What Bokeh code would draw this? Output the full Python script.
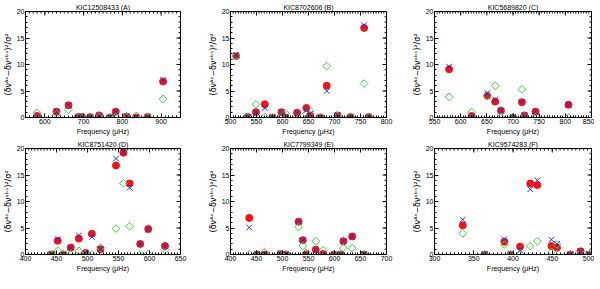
import math
from bokeh.plotting import figure
from bokeh.layouts import column, row
from bokeh.models import FixedTicker, Range1d
from bokeh.embed import file_html
from bokeh.resources import INLINE

# ---------------- data ----------------
titles = ["KIC12508433 (A)", "KIC8702606 (B)", "KIC5689820 (C)",
          "KIC8751420 (D)", "KIC7799349 (E)", "KIC9574283 (F)"]
x_ranges = [(550, 950), (500, 800), (550, 850), (400, 650), (400, 700), (300, 500)]
x_majors = [[600, 700, 800, 900],
            [500, 550, 600, 650, 700, 750, 800],
            [550, 600, 650, 700, 750, 800, 850],
            [400, 450, 500, 550, 600, 650],
            [400, 450, 500, 550, 600, 650, 700],
            [300, 350, 400, 450, 500]]
y_majors = [0, 5, 10, 15, 20]

freqA = [580, 630, 661, 686, 696, 717, 740, 769, 783, 811, 836, 865, 905]
redA = [0.3, 1.1, 2.3, 0.1, 0.1, 0.1, 0.4, 0.0, 1.1, 0.2, 0.0, 0.1, 6.8]
blueA = [0.2, 1.1, 2.3, 0.1, 0.1, 0.1, 0.4, 0.1, 1.1, 0.2, 0.1, 0.1, 7.1]
greenA = [0.9, 0.6, 1.5, 0.0, 0.0, 0.1, 0.1, 0.0, 0.1, 0.1, 0.3, 0.1, 3.5]

freqB = [511, 533, 549, 566, 581, 598, 606, 628, 646, 653, 673, 685, 706, 731, 757, 766]
redB = [11.6, 0.1, 1.0, 2.5, 0.0, 1.0, 0.0, 0.9, 1.8, 0.4, 0.0, 6.0, 0.4, 0.1, 16.9, 0.1]
blueB = [11.8, 0.1, 1.0, 1.8, 0.0, 1.0, 0.1, 0.9, 1.4, 0.7, 0.0, 5.0, 0.4, 0.1, 17.4, 0.1]
greenB = [11.6, 0.0, 2.5, 0.1, 0.0, 0.3, 0.8, 0.1, 0.7, 1.3, 0.0, 9.7, 0.3, 0.1, 6.4, 0.1]

freqC = [578, 621, 651, 666, 677, 700, 717, 722, 743, 806]
redC = [9.1, 0.3, 4.1, 3.0, 1.3, 0.0, 2.9, 0.4, 1.1, 2.4]
blueC = [9.6, 0.3, 4.6, 3.4, 1.3, 0.1, 2.9, 0.4, 1.1, 2.4]
greenC = [3.9, 1.0, 4.1, 6.0, 0.1, 0.1, 5.3, 0.1, 0.1, 0.0]

freqD = [442, 452, 461, 473, 486, 497, 507, 521, 546, 558, 568, 585, 598, 625]
redD = [0.0, 2.6, 0.0, 1.3, 3.0, 0.3, 3.9, 1.0, 16.8, 19.2, 13.4, 2.0, 4.8, 1.6]
blueD = [0.1, 2.9, 0.0, 1.3, 3.6, 0.3, 3.3, 1.0, 18.1, 19.3, 12.6, 2.0, 4.7, 1.6]
greenD = [0.0, 0.7, 0.0, 0.0, 0.7, 0.1, 0.0, 1.3, 4.9, 13.4, 5.3, 0.0, 0.1, 0.9]

freqE = [436, 451, 466, 496, 507, 531, 539, 545, 564, 578, 599, 612, 617, 634, 657]
redE = [6.9, 0.0, 0.0, 0.1, 0.0, 6.2, 2.7, 0.0, 0.9, 0.1, 0.0, 0.0, 2.5, 3.4, 0.0]
blueE = [5.1, 0.1, 0.0, 0.1, 0.1, 6.2, 2.7, 0.0, 0.9, 0.1, 0.0, 0.1, 2.5, 3.4, 0.1]
greenE = [0.0, 0.0, 0.4, 0.1, 0.0, 5.2, 1.6, 0.3, 2.5, 0.8, 0.0, 0.0, 1.2, 1.2, 0.0]

freqF = [336, 364, 389, 397, 409, 422, 431, 449, 456, 473, 486, 497]
redF = [5.5, 0.0, 2.4, 0.0, 1.5, 13.4, 13.1, 1.6, 1.3, 0.0, 0.6, 0.0]
blueF = [6.6, 0.1, 2.9, 0.1, 0.8, 12.3, 14.0, 2.8, 2.0, 0.0, 0.6, 0.1]
greenF = [4.0, 0.0, 1.9, 0.0, 0.0, 1.6, 2.5, 0.5, 1.9, 0.0, 0.2, 0.0]

freqs = [freqA, freqB, freqC, freqD, freqE, freqF]
reds = [redA, redB, redC, redD, redE, redF]
blues = [blueA, blueB, blueC, blueD, blueE, blueF]
greens = [greenA, greenB, greenC, greenD, greenE, greenF]

y_label = "(δνᴬˢ−δνᵒᵇˢ)²/σ²"
x_label = "Frequency (μHz)"

# ---------------- style ----------------
FONT = "Liberation Sans"
FS = "7px"
RED = "#f01414"
BLUE = "#2a2ae0"
GREEN = "#3ccf3c"

cols = [(20, 155, 25), (21, 156, 20), (28, 157, 3)]
rows = [(11, 106, 19), (11, 106, 19)]


def style_axis(ax, ticker):
    ax.ticker = ticker
    ax.major_tick_in = 4
    ax.major_tick_out = 0
    ax.minor_tick_in = 2
    ax.minor_tick_out = 0
    ax.axis_line_color = "black"
    ax.major_tick_line_color = "black"
    ax.minor_tick_line_color = "black"
    ax.major_label_text_font = FONT
    ax.major_label_text_color = "black"
    ax.major_label_text_font_size = FS
    ax.major_label_standoff = 1
    ax.axis_label_text_font = FONT
    ax.axis_label_text_font_size = FS
    ax.axis_label_text_font_style = "normal"
    ax.axis_label_text_color = "black"
    ax.axis_label_standoff = 1


figs = []
for i in range(6):
    r, c = divmod(i, 3)
    bl, fw, br = cols[c]
    bt, fh, bb = rows[r]
    x0, x1 = x_ranges[i]
    p = figure(frame_width=fw, frame_height=fh,
               x_range=Range1d(x0, x1), y_range=Range1d(0, 20),
               output_backend="svg", toolbar_location=None,
               min_border_left=bl, min_border_right=br,
               min_border_top=bt, min_border_bottom=bb)
    p.xgrid.visible = False
    p.ygrid.visible = False
    p.outline_line_color = "black"
    p.outline_line_alpha = 1.0
    p.background_fill_color = "white"
    p.border_fill_color = "white"
    p.title.text = titles[i]
    p.title.align = "center"
    p.title.text_font = FONT
    p.title.text_font_size = FS
    p.title.text_font_style = "normal"
    p.title.text_color = "#000000"
    p.title.standoff = 1
    p.title.offset = 0

    step = (x_majors[i][1] - x_majors[i][0]) / 10.0
    n = int(round((x1 - x0) / step))
    xminor = [x0 + k * step for k in range(n + 1)]
    yminor = list(range(0, 21))

    style_axis(p.xaxis[0], FixedTicker(ticks=x_majors[i], minor_ticks=xminor))
    style_axis(p.yaxis[0], FixedTicker(ticks=y_majors, minor_ticks=yminor))
    p.xaxis[0].axis_label = x_label
    p.yaxis[0].axis_label = y_label
    p.yaxis[0].axis_label_text_font = "DejaVu Sans"
    p.yaxis[0].axis_label_text_font_size = "8px"

    p.scatter(freqs[i], reds[i], marker="circle", size=7,
              fill_color=RED, line_color=RED)
    p.scatter(freqs[i], greens[i], marker="square", size=5.5, angle=math.pi / 4,
              fill_color=None, line_color=GREEN, line_width=1)
    p.scatter(freqs[i], blues[i], marker="x", size=8,
              line_color=BLUE, line_width=1)

    # tick marks on the top and right sides of the box (inward)
    p.ray(x=xminor, y=[20] * len(xminor), length=2, length_units="screen",
          angle=-math.pi / 2, line_color="black", line_width=1)
    p.ray(x=x_majors[i], y=[20] * len(x_majors[i]), length=4, length_units="screen",
          angle=-math.pi / 2, line_color="black", line_width=1)
    p.ray(x=[x1] * len(yminor), y=yminor, length=2, length_units="screen",
          angle=math.pi, line_color="black", line_width=1)
    p.ray(x=[x1] * len(y_majors), y=y_majors, length=4, length_units="screen",
          angle=math.pi, line_color="black", line_width=1)
    figs.append(p)

layout = column(row(figs[0], figs[1], figs[2]), row(figs[3], figs[4], figs[5]))

open("out.html", "w").write(file_html(layout, INLINE))
